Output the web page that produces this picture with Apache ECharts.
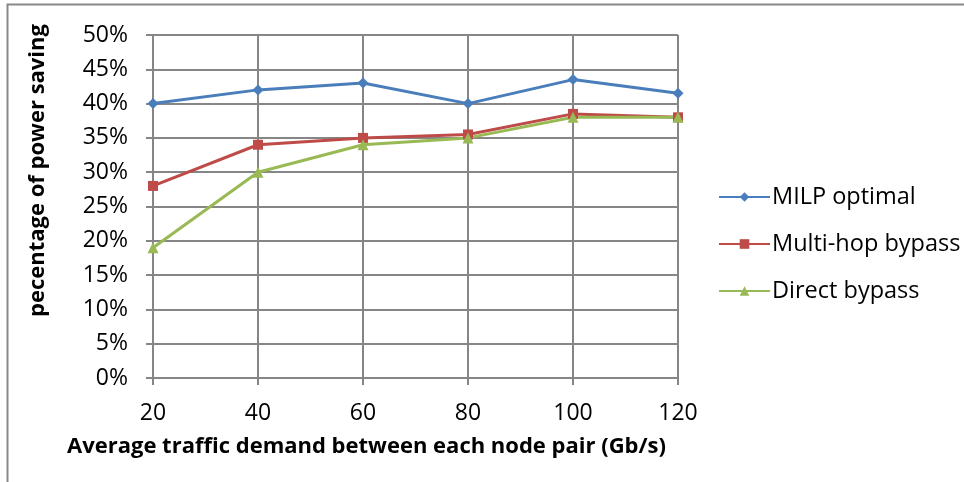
<!DOCTYPE html>
<html>
<head>
<meta charset="utf-8">
<script src="https://cdn.jsdelivr.net/npm/echarts@6/dist/echarts.min.js"></script>
<style>
  html, body { margin: 0; padding: 0; background: #fff; }
  #chart { width: 964px; height: 482px; }
</style>
</head>
<body>
<div id="chart"></div>
<script>
// Average traffic demand (Gb/s)
const demand = [20, 40, 60, 80, 100, 120];
// Power saving (%) per approach
const milpOptimal = [40, 42, 43, 40, 43.5, 41.5];
const multiHopBypass = [28, 34, 35, 35.5, 38.5, 38];
const directBypass = [19, 30, 34, 35, 38, 38];
const seriesNames = ['MILP optimal', 'Multi-hop bypass', 'Direct bypass'];

const FONT = '"Open Sans", Lato, sans-serif';
const GRID_COLOR = '#868686';

const pairs = arr => demand.map((d, i) => [d, arr[i]]);

const chart = echarts.init(document.getElementById('chart'), null, { renderer: 'canvas' });

function line(name, data, color, symbol, size) {
  return {
    name, type: 'line', data: pairs(data),
    symbol, symbolSize: size,
    lineStyle: { color, width: 3 },
    itemStyle: { color },
    emphasis: { disabled: true },
    animation: false
  };
}

chart.setOption({
  animation: false,
  graphic: [{
    type: 'rect',
    shape: { x: 7.5, y: 4.5, width: 1000, height: 1000 },
    style: { fill: 'none', stroke: '#888', lineWidth: 2 },
    silent: true
  }],
  grid: { left: 153, right: 286, top: 35, bottom: 104, containLabel: false },
  xAxis: {
    type: 'value', min: 20, max: 120, interval: 20,
    name: 'Average traffic demand between each node pair (Gb/s)',
    nameLocation: 'middle', nameGap: 58,
    nameTextStyle: { fontFamily: FONT, fontWeight: 'bold', fontSize: 22, color: '#000', padding: [0, 98, 0, 0] },
    axisLine: { show: true, lineStyle: { color: GRID_COLOR, width: 2 } },
    axisTick: { show: true, length: 7, lineStyle: { color: GRID_COLOR, width: 2 } },
    axisLabel: { fontFamily: FONT, fontSize: 23, color: '#000', margin: 24 },
    splitLine: { show: true, lineStyle: { color: GRID_COLOR, width: 2 } }
  },
  yAxis: {
    type: 'value', min: 0, max: 50, interval: 5,
    name: 'pecentage of power saving',
    nameLocation: 'middle', nameGap: 104, nameRotate: 90,
    nameTextStyle: { fontFamily: FONT, fontWeight: 'bold', fontSize: 22, color: '#000', padding: [0, 0, 0, 72] },
    axisLine: { show: true, lineStyle: { color: GRID_COLOR, width: 2 } },
    axisTick: { show: true, length: 7, lineStyle: { color: GRID_COLOR, width: 2 } },
    axisLabel: { fontFamily: FONT, fontSize: 23, color: '#000', margin: 25, formatter: v => v + '%' },
    splitLine: { show: true, lineStyle: { color: GRID_COLOR, width: 2 } }
  },
  legend: {
    orient: 'vertical', left: 713, top: 180,
    itemWidth: 51, itemHeight: 12, itemGap: 23,
    textStyle: { fontFamily: FONT, fontSize: 23.5, color: '#000', padding: [0, 0, 0, -3] },
    data: seriesNames.map(n => ({ name: n }))
  },
  series: [
    line(seriesNames[0], milpOptimal, '#4a7ebb', 'diamond', 11),
    line(seriesNames[1], multiHopBypass, '#be4b48', 'rect', 10),
    line(seriesNames[2], directBypass, '#98b954', 'triangle', 11)
  ]
});
</script>
</body>
</html>
